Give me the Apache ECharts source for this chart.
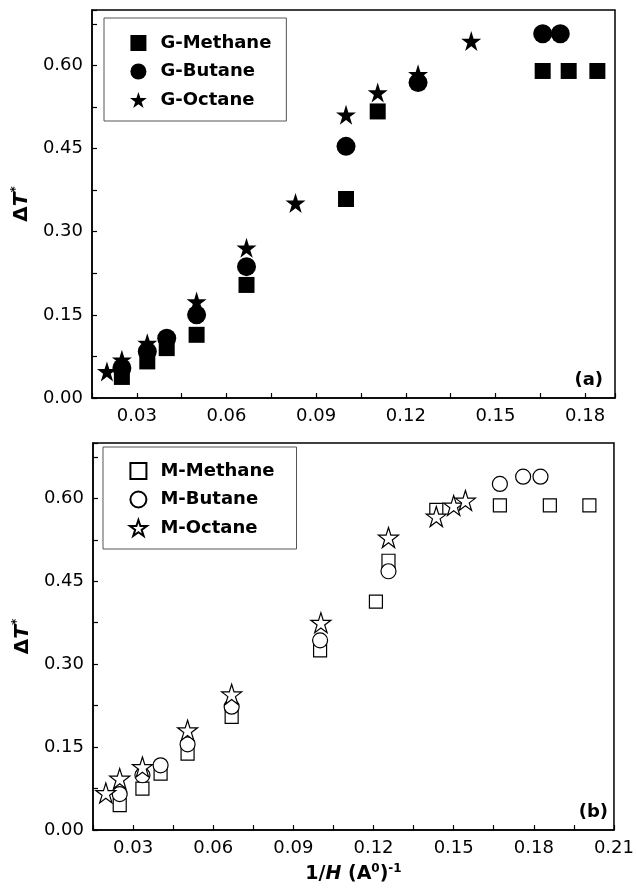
<!DOCTYPE html>
<html>
<head>
<meta charset="utf-8">
<script src="https://cdn.jsdelivr.net/npm/echarts@6/dist/echarts.min.js"></script>
<style>
  html, body { margin: 0; padding: 0; background: #fff; }
  #main { width: 637px; height: 890px; }
</style>
</head>
<body>
<div id="main"></div>
<script>
// panel (a) - filled markers
var gMethaneX = [0.025, 0.0335, 0.040, 0.050, 0.0667, 0.100, 0.1106, 0.1658, 0.1745, 0.1841];
var gMethaneY = [0.038, 0.066, 0.090, 0.114, 0.204, 0.359, 0.517, 0.590, 0.590, 0.590];
var gButaneX = [0.025, 0.0335, 0.040, 0.050, 0.0667, 0.100, 0.1241, 0.1658, 0.1717];
var gButaneY = [0.054, 0.084, 0.108, 0.150, 0.237, 0.454, 0.569, 0.657, 0.657];
var gOctaneX = [0.020, 0.025, 0.0335, 0.050, 0.0667, 0.0831, 0.100, 0.1106, 0.1241, 0.1419];
var gOctaneY = [0.048, 0.069, 0.099, 0.174, 0.271, 0.352, 0.511, 0.551, 0.584, 0.644];

// panel (b) - open markers
var mMethaneX = [0.025, 0.0335, 0.0403, 0.0504, 0.0669, 0.100, 0.1209, 0.1256, 0.1435, 0.1673, 0.186, 0.2008];
var mMethaneY = [0.045, 0.075, 0.102, 0.138, 0.2045, 0.325, 0.413, 0.487, 0.579, 0.587, 0.587, 0.587];
var mButaneX = [0.025, 0.0335, 0.0403, 0.0504, 0.0669, 0.100, 0.1256, 0.1673, 0.176, 0.1825];
var mButaneY = [0.065, 0.099, 0.117, 0.155, 0.223, 0.343, 0.468, 0.626, 0.639, 0.639];
var mOctaneX = [0.0198, 0.025, 0.0335, 0.0504, 0.0669, 0.1003, 0.1256, 0.1435, 0.150, 0.1544];
var mOctaneY = [0.067, 0.093, 0.114, 0.1805, 0.2455, 0.375, 0.529, 0.567, 0.587, 0.596];

var xMaxA = 0.19, xMaxB = 0.21, xMin = 0.015;
var yMin = 0, yMax = 0.70;

function pts(xs, ys) {
    return xs.map(function (x, i) { return [x, ys[i]]; });
}

var star = 'path://M0,-10L2.245,-3.09L9.511,-3.09L3.633,1.18L5.878,8.09L0,3.82L-5.878,8.09L-3.633,1.18L-9.511,-3.09L-2.245,-3.09Z';
var square = 'path://M0,0L10,0L10,10L0,10Z';
var font = 'DejaVu Sans';

// only label every other tick
function everyOther(step) {
    return function (v) {
        var k = v / step;
        return Math.abs(k - Math.round(k)) < 1e-6 ? v.toFixed(2) : '';
    };
}

function xAxisCfg(grid, max, withName) {
    var a = {
        gridIndex: grid, type: 'value', min: xMin, max: max, interval: 0.015,
        axisLine: { onZero: false, lineStyle: { color: '#000', width: 1.5 } },
        axisTick: { inside: true, length: 5, lineStyle: { color: '#000', width: 1.2 } },
        axisLabel: { formatter: everyOther(0.03), fontFamily: font, fontSize: 18, color: '#000', margin: 9 },
        splitLine: { show: false }
    };
    if (withName) {
        a.name = '{b|1/}{i|H}{b| (A}{s|0}{b|)}{s|-1}';
        a.nameLocation = 'middle';
        a.nameGap = 33;
        a.nameTextStyle = {
            rich: {
                b: { fontFamily: font, fontWeight: 'bold', fontSize: 19, color: '#000' },
                i: { fontFamily: font, fontWeight: 'bold', fontStyle: 'italic', fontSize: 19, color: '#000' },
                s: { fontFamily: font, fontWeight: 'bold', fontSize: 12, color: '#000', padding: [0, 0, 10, 0] }
            }
        };
    }
    return a;
}

function yAxisCfg(grid) {
    return {
        gridIndex: grid, type: 'value', min: yMin, max: yMax, interval: 0.075,
        axisLine: { onZero: false, lineStyle: { color: '#000', width: 1.5 } },
        axisTick: { inside: true, length: 5, lineStyle: { color: '#000', width: 1.2 } },
        axisLabel: { formatter: everyOther(0.15), fontFamily: font, fontSize: 18, color: '#000', margin: 9 },
        splitLine: { show: false },
        name: '{d|Δ}{t|T}{s|*}',
        nameLocation: 'middle',
        nameRotate: 90,
        nameGap: 52,
        nameTextStyle: {
            rich: {
                d: { fontFamily: font, fontWeight: 'bold', fontSize: 20, color: '#000' },
                t: { fontFamily: font, fontWeight: 'bold', fontStyle: 'italic', fontSize: 20, color: '#000' },
                s: { fontFamily: font, fontWeight: 'bold', fontSize: 12, color: '#000', padding: [0, 0, 12, 0] }
            }
        }
    };
}

function legendCfg(names, left, top, pad) {
    return {
        data: [
            { name: names[0], icon: square },
            { name: names[1], icon: 'circle' },
            { name: names[2], icon: star }
        ],
        orient: 'vertical', left: left, top: top, padding: pad,
        itemGap: 10.5, itemWidth: 34, itemHeight: 16, selectedMode: false,
        borderColor: '#555', borderWidth: 1,
        textStyle: { fontFamily: font, fontWeight: 'bold', fontSize: 18, color: '#000', lineHeight: 18 }
    };
}

var filled = { color: '#000', opacity: 1 };
var open = { color: '#fff', borderColor: '#000', borderWidth: 1.2, opacity: 1 };

var chart = echarts.init(document.getElementById('main'));
chart.setOption({
    animation: false,
    grid: [
        { left: 92, right: 22, top: 10, bottom: 492, show: true, borderColor: '#000', borderWidth: 1.5 },
        { left: 93, right: 21, top: 443, bottom: 60, show: true, borderColor: '#000', borderWidth: 1.5 }
    ],
    xAxis: [xAxisCfg(0, xMaxA, false), xAxisCfg(1, xMaxB, true)],
    yAxis: [yAxisCfg(0), yAxisCfg(1)],
    legend: [
        legendCfg(['G-Methane', 'G-Butane', 'G-Octane'], 104, 18, [16, 15, 12, 26]),
        legendCfg(['M-Methane', 'M-Butane', 'M-Octane'], 103, 447, [15, 22, 12, 26])
    ],
    graphic: [
        { type: 'text', right: 34, top: 371, style: { text: '(a)', font: 'bold 18px "DejaVu Sans"', fill: '#000' } },
        { type: 'text', right: 29, top: 803, style: { text: '(b)', font: 'bold 18px "DejaVu Sans"', fill: '#000' } }
    ],
    series: [
        { name: 'G-Methane', type: 'scatter', xAxisIndex: 0, yAxisIndex: 0, symbol: 'rect', symbolSize: 16, itemStyle: filled, data: pts(gMethaneX, gMethaneY) },
        { name: 'G-Butane', type: 'scatter', xAxisIndex: 0, yAxisIndex: 0, symbol: 'circle', symbolSize: 19, itemStyle: filled, data: pts(gButaneX, gButaneY) },
        { name: 'G-Octane', type: 'scatter', xAxisIndex: 0, yAxisIndex: 0, symbol: star, symbolSize: 20, itemStyle: filled, data: pts(gOctaneX, gOctaneY) },
        { name: 'M-Methane', type: 'scatter', xAxisIndex: 1, yAxisIndex: 1, symbol: 'rect', symbolSize: 13, itemStyle: open, data: pts(mMethaneX, mMethaneY) },
        { name: 'M-Butane', type: 'scatter', xAxisIndex: 1, yAxisIndex: 1, symbol: 'circle', symbolSize: 15, itemStyle: open, data: pts(mButaneX, mButaneY) },
        { name: 'M-Octane', type: 'scatter', xAxisIndex: 1, yAxisIndex: 1, symbol: star, symbolSize: 20, itemStyle: open, data: pts(mOctaneX, mOctaneY) }
    ]
});
</script>
</body>
</html>
